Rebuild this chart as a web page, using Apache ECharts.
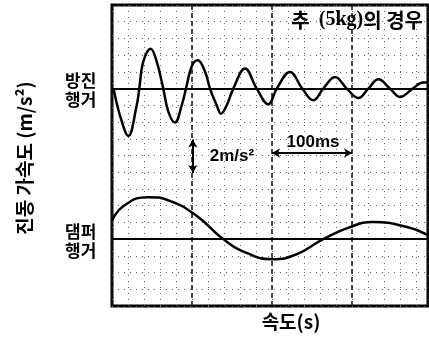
<!DOCTYPE html>
<html>
<head>
<meta charset="utf-8">
<script src="https://cdn.jsdelivr.net/npm/echarts@6/dist/echarts.min.js"></script>
<style>
  html, body { margin: 0; padding: 0; background: #fff; }
  #chart { width: 429px; height: 339px; }
</style>
</head>
<body>
<div id="chart"></div>
<script>
// time in ms, acceleration in m/s^2
const antiVibTime = [2, 10, 20.4, 30.9, 34.1, 39.1, 48.4, 55.9, 64.1, 70.4, 78.75, 87.1, 92.5, 99.6, 107.1, 116.25, 122.5, 130.9, 136.25, 143.75, 151.6, 166.25, 180.9, 195.4, 205.9, 222.5, 237.9, 251.6, 264.1, 278.75, 293.4, 307.9, 320.4, 332.9, 347.5, 360, 375.9, 388.75, 395];
const antiVibAccel = [0, -1.61, -2.83, -1.0, 0, 1.61, 2.39, 1.61, 0, -1.38, -2.03, -1.0, 0, 1.32, 1.69, 1.02, 0, -1.0, -1.5, -0.96, 0, 1.2, 0, -0.94, 0, 1.0, 0, -0.7, 0, 0.7, 0, -0.56, 0, 0.56, 0, -0.5, 0, 0.36, 0.36];

const damperTime = [0, 14, 45, 72, 106, 139, 169, 200, 231, 264, 297.5, 326, 369, 395];
const damperAccel = [1.08, 1.97, 2.51, 2.29, 1.38, 0, -0.84, -1.2, -0.9, 0, 0.72, 1.02, 0.72, 0.24];

// zero lines of the two traces on the 18-division screen
const ANTI_BASE = 13;
const DAMPER_BASE = 4;

const KR_FONT = '"Noto Sans CJK KR", "Noto Sans", sans-serif';
const LAT_FONT = '"Liberation Sans", Arial, sans-serif';

const chart = echarts.init(document.getElementById("chart"));

const dotted = { color: "#666", width: 1, type: [1, 5] };

const option = {
  animation: false,
  backgroundColor: "#fff",
  grid: {
    left: 112, top: 5, width: 316, height: 301,
    show: true, borderColor: "#000", borderWidth: 3,
  },
  xAxis: [
    {
      type: "value", min: 0, max: 395, interval: 20, position: "bottom",
      axisLine: { show: false }, axisTick: { show: false }, axisLabel: { show: false },
      splitLine: { show: true, lineStyle: dotted },
    },
    {
      type: "value", min: 0, max: 395, interval: 100, position: "top",
      axisLine: { show: false }, axisTick: { show: false }, axisLabel: { show: false },
      splitLine: { show: true, lineStyle: { color: "#111", width: 1.5, type: [5, 3] } },
    },
  ],
  yAxis: {
    type: "value", min: 0, max: 18, interval: 1,
    axisLine: { show: false }, axisTick: { show: false }, axisLabel: { show: false },
    splitLine: { show: true, lineStyle: dotted },
  },
  series: [
    {
      name: "방진 행거",
      type: "line",
      smooth: 0.4,
      symbol: "none",
      lineStyle: { color: "#000", width: 2.5 },
      data: antiVibTime.map((t, i) => [t, ANTI_BASE + antiVibAccel[i]]),
      markLine: {
        silent: true,
        symbol: "none",
        label: { show: false },
        lineStyle: { color: "#000", width: 2, type: "solid" },
        data: [{ yAxis: ANTI_BASE }, { yAxis: DAMPER_BASE }],
      },
    },
    {
      name: "댐퍼 행거",
      type: "line",
      smooth: 0.5,
      symbol: "none",
      lineStyle: { color: "#000", width: 2.5 },
      data: damperTime.map((t, i) => [t, DAMPER_BASE + damperAccel[i]]),
      markLine: {
        silent: true,
        symbol: ["arrow", "arrow"],
        symbolSize: [7, 8],
        label: { show: false },
        lineStyle: { color: "#000", width: 2, type: "solid" },
        data: [
          // 100 ms span
          [{ coord: [200, 9.15] }, { coord: [300, 9.15] }],
          // 2 m/s^2 scale bar
          [{ coord: [101, 7.95] }, { coord: [101, 9.95] }],
        ],
      },
    },
  ],
  graphic: [
    {
      type: "text", right: 6, top: 10,
      style: {
        text: "{k|추  }{l|(5kg)}{k|의 경우}",
        backgroundColor: "#fff",
        rich: {
          k: { font: `bold 20px ${KR_FONT}`, fill: "#000" },
          l: { font: `bold 20px "Liberation Serif", serif`, fill: "#000" },
        },
      },
    },
    {
      type: "text", left: 65, top: 71,
      style: { text: "방진\n행거", font: `bold 17px ${KR_FONT}`, lineHeight: 19, fill: "#000" },
    },
    {
      type: "text", left: 65, top: 222,
      style: { text: "댐퍼\n행거", font: `bold 17px ${KR_FONT}`, lineHeight: 19, fill: "#000" },
    },
    {
      type: "text", x: 25, y: 158, rotation: Math.PI / 2,
      style: { text: "진동 가속도 (m/s²)", font: `bold 19px ${KR_FONT}`, fill: "#000", align: "center", verticalAlign: "middle" },
    },
    {
      type: "text", x: 291, y: 322,
      style: { text: "속도(s)", font: `bold 19px ${KR_FONT}`, fill: "#000", align: "center", verticalAlign: "middle" },
    },
    {
      type: "text", x: 232, y: 156,
      style: { text: "2m/s²", font: `bold 17px ${LAT_FONT}`, fill: "#000", align: "center", verticalAlign: "middle" },
    },
    {
      type: "text", x: 313, y: 142,
      style: { text: "100ms", font: `bold 17px ${LAT_FONT}`, fill: "#000", align: "center", verticalAlign: "middle" },
    },
  ],
};

chart.setOption(option);
</script>
</body>
</html>
